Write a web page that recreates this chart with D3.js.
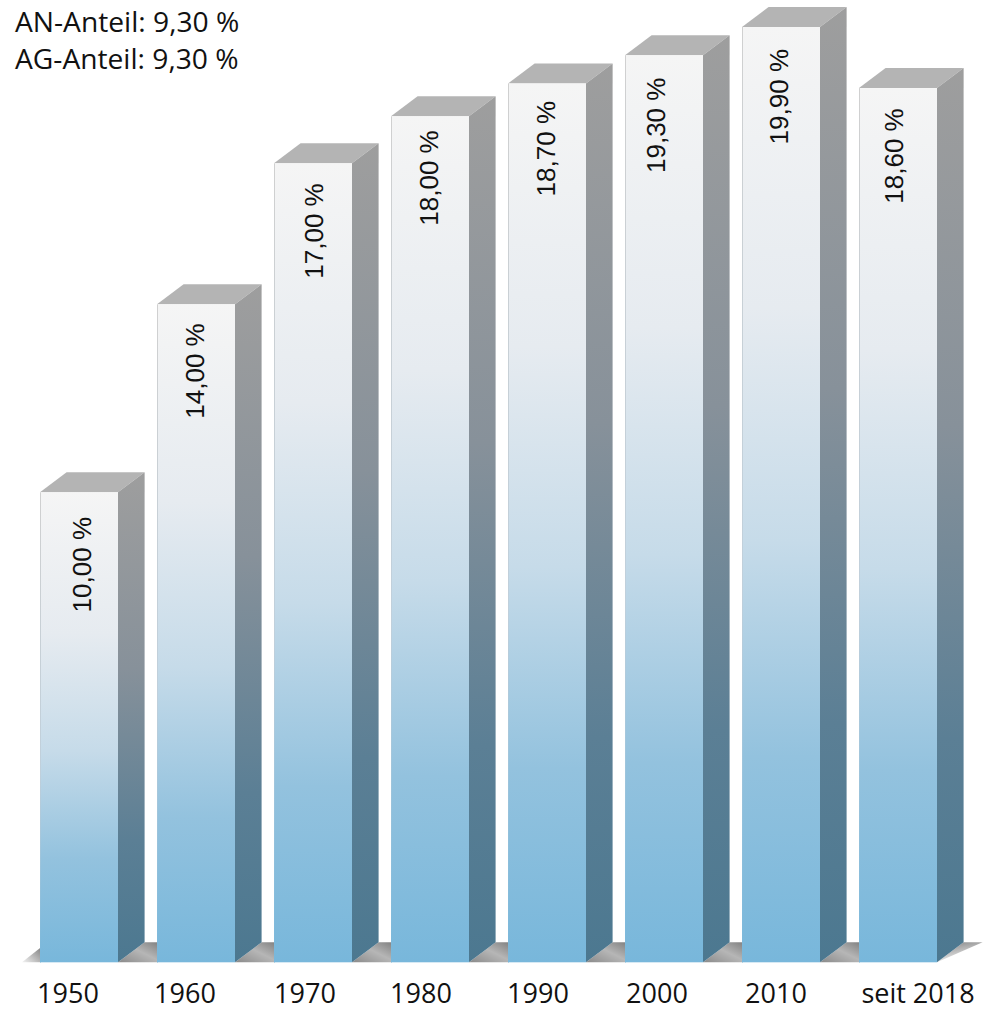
<!DOCTYPE html>
<html><head><meta charset="utf-8">
<style>html,body{margin:0;padding:0;background:#fff}svg{display:block}</style>
<script src="https://cdn.jsdelivr.net/npm/d3@7"></script></head><body>
<script>
const categories=["1950","1960","1970","1980","1990","2000","2010","seit 2018"];
const values=[10,14,17,18,18.7,19.3,19.9,18.6];
const valueLabels=["10,00 %","14,00 %","17,00 %","18,00 %","18,70 %","19,30 %","19,90 %","18,60 %"];
const noteLines=["AN-Anteil: 9,30 %","AG-Anteil: 9,30 %"];

const W=993,H=1009,base=962.3,dx=26.6,dy=20;
const svg=d3.select("body").append("svg").attr("width",W).attr("height",H);
const bw=78;
const step=(859-40)/7;
const left=i=>40+step*i;
const y=d3.scaleLinear().domain([0,10]).range([base,492.3]);
const labelX=[50.5,46.5,48.5,47.3,47,40,46.3,43.7];
const labelTop=[24.7,19,20,14,17.6,22.4,22,20.2];
const catCenter=[68,185,305,421,538,657,776,918];
const defs=svg.append("defs");
function grad(id,stops,attrs){const g=defs.append("linearGradient").attr("id",id);
 Object.entries(attrs).forEach(([k,v])=>g.attr(k,v));
 stops.forEach(([o,c])=>g.append("stop").attr("offset",o).attr("stop-color",c));}
grad("front",[[0,"#f5f5f5"],[0.3,"#e6ebf0"],[0.55,"#c6dbe9"],[0.78,"#93c2de"],[1,"#78b7db"]],{x1:0,y1:0,x2:0,y2:1});
grad("edge",[[0,"#d0d0d0"],[0.6,"#c0d0dc"],[1,"#78b7db"]],{x1:0,y1:0,x2:0,y2:1});
grad("side",[[0,"#9e9e9e"],[0.4,"#87919a"],[0.75,"#5b7f95"],[1,"#4c7890"]],{x1:0,y1:0,x2:0,y2:1});
grad("floor",[[0,"#8a8a8a"],[0.55,"#b6b6b6"],[1,"#828282"]],{x1:0,y1:1,x2:1,y2:0});
grad("floorR",[[0,"#8c8c8c"],[1,"#ffffff"]],{x1:0.3,y1:0,x2:0.7,y2:1});
grad("floorL",[[0,"#8c8c8c"],[1,"#f4f4f4"]],{x1:1,y1:0.2,x2:0,y2:1});

const line=d3.line();
svg.append("path").attr("d",line([[22,base],[41,base-dy+5],[41,base],[22,base]])).attr("fill","url(#floorL)");
const gaps=d3.range(7);
svg.selectAll(".gap").data(gaps).join("path").attr("class","gap")
 .attr("d",i=>line([[left(i)+bw,base],[left(i)+bw+dx,base-dy],[left(i+1)+1,base-dy],[left(i+1)+1,base]]))
 .attr("fill","url(#floor)");
svg.append("path").attr("d",line([[left(7)+bw,base],[left(7)+bw+dx,base-dy],[left(7)+bw+dx+19,base-dy]])).attr("fill","url(#floorR)");

const bars=svg.selectAll(".bar").data(values).join("g").attr("class","bar");
bars.append("path").attr("d",(d,i)=>line([[left(i),y(d)],[left(i)+dx,y(d)-dy],[left(i)+bw+dx,y(d)-dy],[left(i)+bw,y(d)]])).attr("fill","#b4b4b4");
bars.append("path").attr("d",(d,i)=>line([[left(i)+bw,y(d)],[left(i)+bw+dx,y(d)-dy],[left(i)+bw+dx,base-dy],[left(i)+bw,base]])).attr("fill","url(#side)");
bars.append("rect").attr("x",(d,i)=>left(i)).attr("y",d=>y(d)).attr("width",bw).attr("height",d=>base-y(d)).attr("fill","url(#front)");
bars.append("rect").attr("x",(d,i)=>left(i)).attr("y",d=>y(d)).attr("width",1).attr("height",d=>base-y(d)).attr("fill","url(#edge)");
bars.append("text").attr("transform",(d,i)=>`translate(${left(i)+labelX[i]},${y(d)+labelTop[i]}) rotate(-90)`)
 .attr("text-anchor","end").attr("font-family","'Liberation Sans', Arial, sans-serif").attr("font-size",26).attr("fill","#111")
 .attr("text-rendering","geometricPrecision")
 .text((d,i)=>valueLabels[i]);

svg.selectAll(".cat").data(categories).join("text").attr("class","cat")
 .attr("x",(d,i)=>catCenter[i]).attr("y",1003.3)
 .attr("text-anchor","middle").attr("font-family","Open Sans").attr("font-size",27).attr("fill","#111").text(d=>d);
svg.selectAll(".note").data(noteLines).join("text").attr("class","note")
 .attr("x",15).attr("y",(d,i)=>32+i*37)
 .attr("font-family","Open Sans").attr("font-size",28.2).attr("fill","#111").text(d=>d);
</script></body></html>
